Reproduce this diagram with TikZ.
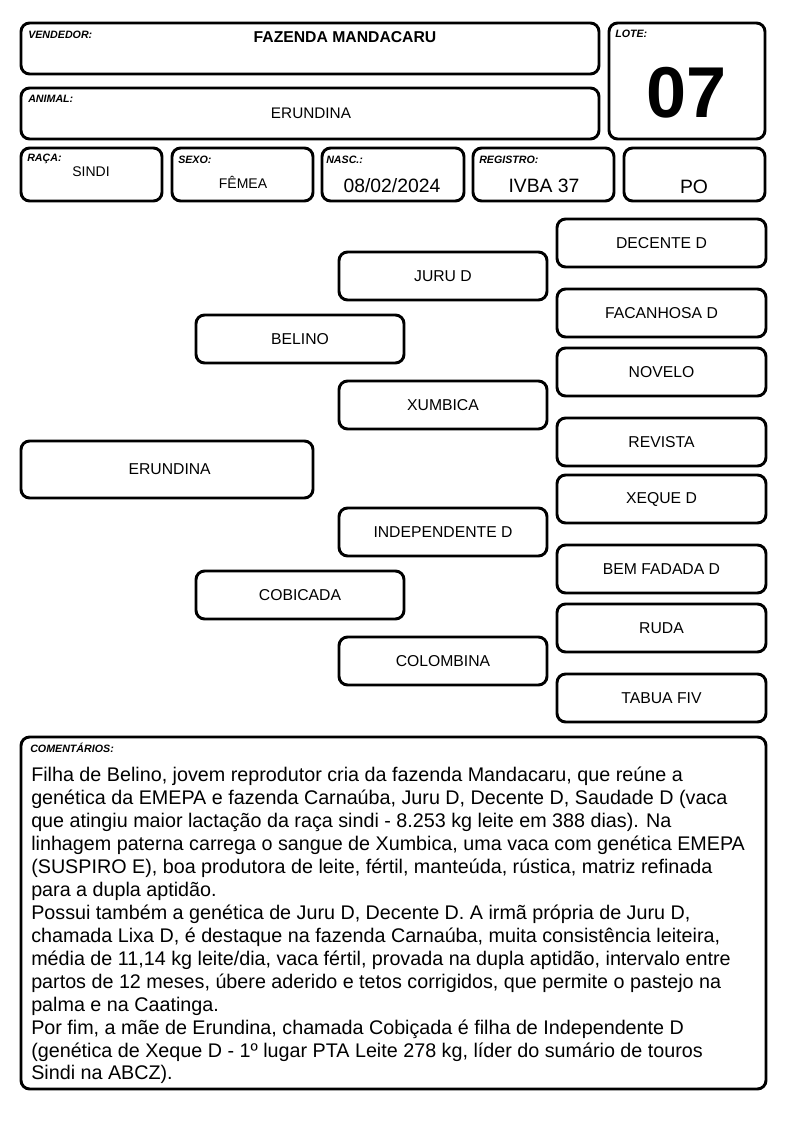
\documentclass[tikz,border=0pt]{standalone}
\usepackage{fontspec}
\setmainfont{Liberation Sans}
\usetikzlibrary{fit}
\begin{document}
\begin{tikzpicture}[x=0.75pt,y=-0.75pt,
  box/.style={draw, line width=2.2pt, rounded corners=6.5pt, inner sep=0pt},
  ptxt/.style={inner sep=0pt, font=\fontsize{11.8}{13}\selectfont},
  lbl/.style={font=\fontsize{8}{9}\selectfont\bfseries\itshape, anchor=base west, inner sep=0pt},
  val/.style={anchor=base, inner sep=0pt, font=\fontsize{11.5}{13}\selectfont},
  valsm/.style={anchor=base, inner sep=0pt, font=\fontsize{10.5}{12}\selectfont},
  valbig/.style={anchor=base, inner sep=0pt, font=\fontsize{14.5}{16}\selectfont}]
\useasboundingbox (0,0) rectangle (794,1123);
\fill[white] (0,0) rectangle (794,1123);

% header boxes
\node[box, fit={(21,23)(599,74)}] (vend) {};
\node[box, fit={(21,88)(599,139)}] (anim) {};
\node[box, fit={(609,23)(765,139)}] (lote) {};
\node[box, fit={(21,148)(162,201)}] (raca) {};
\node[box, fit={(172,148)(313,201)}] (sexo) {};
\node[box, fit={(322,148)(464,201)}] (nasc) {};
\node[box, fit={(473,148)(614,201)}] (reg) {};
\node[box, fit={(624,148)(765,201)}] (po) {};

\node[lbl] (vendl) at (28,39) {VENDEDOR:};
\node[lbl] (animl) at (28,103) {ANIMAL:};
\node[lbl] (lotel) at (615,38) {LOTE:};
\node[lbl] (racal) at (27,162) {RAÇA:};
\node[lbl] (sexol) at (178,164) {SEXO:};
\node[lbl] (nascl) at (326,164) {NASC.:};
\node[lbl] (regl) at (479,164) {REGISTRO:};

\node[val, font=\fontsize{11.8}{13}\selectfont\bfseries] (vendv) at (345,43) {FAZENDA MANDACARU};
\node[val] (animv) at (311,119) {ERUNDINA};
\node[val, font=\fontsize{54}{56}\selectfont\bfseries] (lotev) at (687,118) {07};
\node[valsm] (racav) at (91,177) {SINDI};
\node[valsm] (sexov) at (243,189) {FÊMEA};
\node[valbig] (nascv) at (392,193) {08/02/2024};
\node[valbig] (regv) at (544,193) {IVBA 37};
\node[valbig] (pov) at (694,194) {PO};

% pedigree boxes
\node[box, fit={(21,441)(313,498)}] (erundina) {};
\node[box, fit={(196,315)(404,363)}] (belino) {};
\node[box, fit={(196,571)(404,619)}] (cobicada) {};
\node[box, fit={(339,252)(547,300)}] (juru) {};
\node[box, fit={(339,381)(547,429)}] (xumbica) {};
\node[box, fit={(339,508)(547,556)}] (indep) {};
\node[box, fit={(339,637)(547,685)}] (colombina) {};
\node[box, fit={(557,219)(766,267)}] (decente) {};
\node[box, fit={(557,289)(766,337)}] (facanhosa) {};
\node[box, fit={(557,348)(766,396)}] (novelo) {};
\node[box, fit={(557,418)(766,466)}] (revista) {};
\node[box, fit={(557,475)(766,523)}] (xeque) {};
\node[box, fit={(557,545)(766,593)}] (bemfadada) {};
\node[box, fit={(557,604)(766,652)}] (ruda) {};
\node[box, fit={(557,674)(766,722)}] (tabua) {};

% pedigree names
\node[ptxt] (erundinaT) at ([xshift=2pt]erundina.center) {ERUNDINA};
\node[ptxt] (belinoT) at (belino.center) {BELINO};
\node[ptxt] (cobicadaT) at (cobicada.center) {COBICADA};
\node[ptxt] (juruT) at (juru.center) {JURU D};
\node[ptxt] (xumbicaT) at (xumbica.center) {XUMBICA};
\node[ptxt] (indepT) at (indep.center) {INDEPENDENTE D};
\node[ptxt] (colombinaT) at (colombina.center) {COLOMBINA};
\node[ptxt] (decenteT) at (decente.center) {DECENTE D};
\node[ptxt] (facanhosaT) at (facanhosa.center) {FACANHOSA D};
\node[ptxt] (noveloT) at (novelo.center) {NOVELO};
\node[ptxt] (revistaT) at (revista.center) {REVISTA};
\node[ptxt] (xequeT) at (xeque.center) {XEQUE D};
\node[ptxt] (bemfadadaT) at (bemfadada.center) {BEM FADADA D};
\node[ptxt] (rudaT) at (ruda.center) {RUDA};
\node[ptxt] (tabuaT) at (tabua.center) {TABUA FIV};

% comments
\node[box, fit={(21,737)(766,1089)}] (coment) {};
\node[lbl] (comentl) at (30,752) {COMENTÁRIOS:};
\node[anchor=north west, inner sep=0pt, align=left, font=\fontsize{14.8}{17.2}\selectfont] (comentv) at (31,767) {%
Filha de Belino, jovem reprodutor cria da fazenda Mandacaru, que reúne a\\
genética da EMEPA e fazenda Carnaúba, Juru D, Decente D, Saudade D (vaca\\
que atingiu maior lactação da raça sindi - 8.253 kg leite em 388 dias). Na\\
linhagem paterna carrega o sangue de Xumbica, uma vaca com genética EMEPA\\
(SUSPIRO E), boa produtora de leite, fértil, manteúda, rústica, matriz refinada\\
para a dupla aptidão.\\
Possui também a genética de Juru D, Decente D. A irmã própria de Juru D,\\
chamada Lixa D, é destaque na fazenda Carnaúba, muita consistência leiteira,\\
média de 11,14 kg leite/dia, vaca fértil, provada na dupla aptidão, intervalo entre\\
partos de 12 meses, úbere aderido e tetos corrigidos, que permite o pastejo na\\
palma e na Caatinga.\\
Por fim, a mãe de Erundina, chamada Cobiçada é filha de Independente D\\
(genética de Xeque D - 1º lugar PTA Leite 278 kg, líder do sumário de touros\\
Sindi na ABCZ).};
\end{tikzpicture}
\end{document}
